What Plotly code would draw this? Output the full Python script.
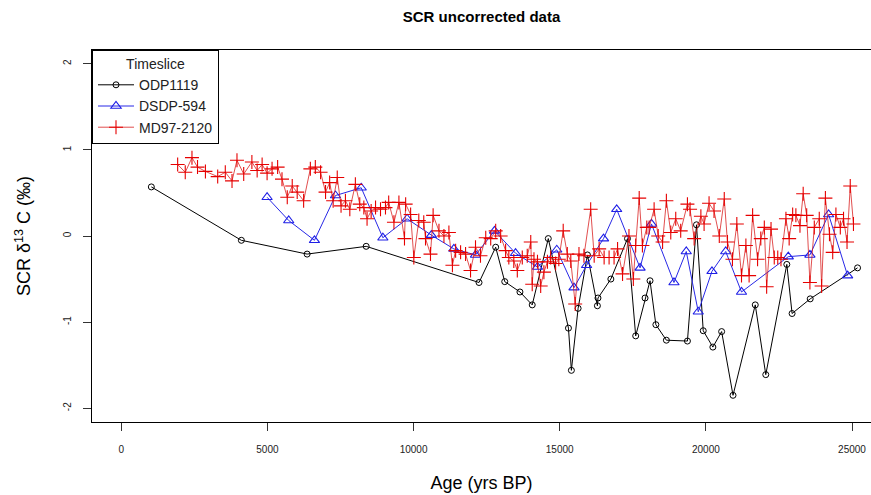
import plotly.graph_objects as go

# ODP1119 (black circles)
odp_age = [1030, 4110, 6360, 8380, 12240, 12810, 13120, 13640, 14060, 14610,
           15300, 15400, 15630, 15950, 16290, 16310, 16750, 17320, 17600, 17920,
           18090, 18290, 18650, 19370, 19680, 19910, 20240, 20540, 20930, 21690,
           22050, 22770, 22950, 23570, 25190]
odp_d13c = [0.57, -0.05, -0.21, -0.12, -0.54, -0.13, -0.53, -0.65, -0.80, -0.03,
            -1.07, -1.56, -0.84, -0.22, -0.81, -0.72, -0.50, -0.03, -1.16, -0.72,
            -0.52, -1.03, -1.21, -1.22, 0.13, -1.10, -1.29, -1.11, -1.85, -0.80,
            -1.61, -0.33, -0.90, -0.73, -0.37]

# DSDP-594 (blue triangles)
dsdp_age = [4990, 5730, 6610, 7330, 8210, 8950, 9780, 10610, 11380, 12120,
            12770, 13490, 14240, 14900, 15490, 15920, 16500, 16950, 17750, 18140,
            18910, 19330, 19740, 20210, 20680, 21220, 22820, 23560, 24200, 24850]
dsdp_d13c = [0.45, 0.18, -0.05, 0.47, 0.56, -0.02, 0.20, 0.01, -0.15, -0.22,
             0.06, -0.20, -0.36, -0.16, -0.60, -0.34, -0.03, 0.31, -0.37, 0.14,
             -0.54, -0.18, -0.88, -0.41, -0.18, -0.65, -0.24, -0.22, 0.25, -0.46]

# MD97-2120 (red crosses)
md_age = [1930, 2190, 2420, 2610, 2880, 3300, 3560, 3790, 3960, 4190,
          4470, 4650, 4820, 4990, 5160, 5350, 5500, 5680, 5850, 6020,
          6240, 6470, 6640, 6820, 6990, 7130, 7250, 7390, 7520, 7670,
          7820, 8010, 8160, 8300, 8410, 8550, 8700, 8870, 9040, 9150,
          9330, 9500, 9690, 9730, 9900, 10010, 10180, 10350, 10410, 10580,
          10670, 10870, 11040, 11210, 11330, 11440, 11610, 11780, 11950, 12120,
          12290, 12470, 12640, 12810, 12980, 13150, 13260, 13430, 13550, 13720,
          13890, 14010, 14060, 14120, 14240, 14350, 14460, 14580, 14690, 14860,
          14970, 15120, 15260, 15380, 15530, 15660, 15830, 16060, 16180, 16350,
          16520, 16690, 16860, 16980, 17150, 17370, 17520, 17600, 17720, 17830,
          17980, 18060, 18230, 18370, 18520, 18650, 18800, 18970, 19140, 19370,
          19460, 19600, 19830, 19940, 20110, 20280, 20460, 20630, 20740, 20910,
          21060, 21220, 21370, 21480, 21600, 21770, 21880, 22000, 22080, 22230,
          22340, 22460, 22570, 22740, 22850, 22970, 23080, 23220, 23330, 23450,
          23560, 23710, 23880, 23960, 24090, 24230, 24340, 24450, 24600, 24710,
          24830, 24940, 25050]
md_d13c = [0.83, 0.74, 0.91, 0.80, 0.75, 0.69, 0.74, 0.64, 0.88, 0.72,
           0.86, 0.76, 0.83, 0.73, 0.78, 0.80, 0.66, 0.45, 0.58, 0.51,
           0.41, 0.78, 0.80, 0.74, 0.51, 0.62, 0.41, 0.68, 0.35, 0.41,
           0.31, 0.60, 0.37, 0.33, 0.20, 0.29, 0.33, 0.31, 0.33, 0.39,
           0.16, 0.39, -0.03, 0.37, 0.25, -0.25, 0.18, 0.16, -0.03, -0.21,
           0.24, 0.06, 0.00, 0.04, -0.34, -0.17, -0.19, -0.21, -0.40, -0.13,
           -0.23, -0.02, -0.03, 0.06, 0.00, -0.17, -0.25, -0.29, -0.40, -0.25,
           -0.23, -0.07, -0.56, -0.27, -0.30, -0.58, -0.42, -0.30, -0.25, -0.32,
           -0.27, 0.06, -0.21, -0.29, -0.79, -0.21, -0.23, 0.31, -0.23, -0.15,
           -0.25, -0.25, -0.25, -0.15, -0.44, 0.00, -0.50, -0.11, 0.44, -0.11,
           0.10, 0.10, 0.31, 0.00, -0.07, 0.41, 0.04, 0.20, 0.06, 0.37,
           0.31, -0.03, 0.23, 0.14, 0.38, 0.29, 0.00, 0.43, -0.07, -0.27,
           0.14, -0.46, -0.11, -0.46, 0.24, -0.27, -0.03, 0.10, -0.59, 0.08,
           -0.25, -0.25, -0.27, 0.20, -0.03, 0.25, 0.24, 0.12, 0.49, 0.24,
           -0.54, 0.10, 0.20, -0.58, 0.44, 0.02, -0.19, 0.25, 0.10, 0.20,
           -0.07, 0.58, 0.14]

x_ticks = [0, 5000, 10000, 15000, 20000, 25000]
y_ticks = [-2, -1, 0, 1, 2]

font = "Liberation Sans, Arial, sans-serif"

fig = go.Figure()
fig.add_trace(go.Scatter(
    x=odp_age, y=odp_d13c, mode="lines+markers", name="ODP1119",
    line=dict(color="black", width=1),
    marker=dict(symbol="circle-open", size=6, color="black", line=dict(width=1))))
fig.add_trace(go.Scatter(
    x=dsdp_age, y=dsdp_d13c, mode="lines+markers", name="DSDP-594",
    line=dict(color="rgb(40,40,230)", width=1),
    marker=dict(symbol="triangle-up-open", size=9, color="rgb(30,30,230)",
                line=dict(width=1.1))))
fig.add_trace(go.Scatter(
    x=md_age, y=md_d13c, mode="lines+markers", name="MD97-2120",
    line=dict(color="rgba(215,20,20,0.75)", width=1),
    marker=dict(symbol="cross-thin-open", size=10, color="rgb(230,0,0)",
                line=dict(width=1.1, color="rgb(230,0,0)"))))

fig.update_layout(
    width=871, height=495,
    margin=dict(l=92, r=0, t=50, b=73),
    plot_bgcolor="white", paper_bgcolor="white",
    font=dict(family=font, color="black"),
    title=dict(text="<b>SCR uncorrected data</b>", x=0.5, xref="paper",
               y=0.9657, yanchor="middle", font=dict(size=15)),
    showlegend=True,
    legend=dict(x=0, y=1, xanchor="left", yanchor="top",
                bordercolor="black", borderwidth=1, bgcolor="white",
                font=dict(size=14, color="#222"),
                title=dict(text="Timeslice", side="top center", font=dict(size=14)),
                tracegroupgap=0, itemwidth=36),
)
fig.update_xaxes(
    range=[-1000, 25650], tickvals=x_ticks, ticktext=[str(v) for v in x_ticks],
    showgrid=False, zeroline=False, showline=True, linecolor="black", linewidth=1,
    mirror=True, ticks="outside", ticklen=8, tickcolor="#333",
    tickfont=dict(size=10, color="#222"), ticklabelstandoff=10,
    ticklabeloverflow="allow",
    title=dict(text="Age (yrs BP)", font=dict(size=18), standoff=22))
fig.update_yaxes(
    range=[-2.16, 2.16], tickvals=y_ticks, ticktext=[str(v) for v in y_ticks],
    showgrid=False, zeroline=False, showline=True, linecolor="black", linewidth=1,
    mirror=True, ticks="outside", ticklen=8, tickcolor="#333", tickangle=-90,
    tickfont=dict(size=10, color="#222"), ticklabelstandoff=8,
    title=dict(text="SCR δ<sup>13</sup> C (‰)", font=dict(size=18), standoff=26))

# drop the default 8px page margin so the figure fills the window
fig.write_html("out.html", config={"displayModeBar": False},
               post_script="document.body.style.margin='0';document.body.style.overflow='hidden';")
